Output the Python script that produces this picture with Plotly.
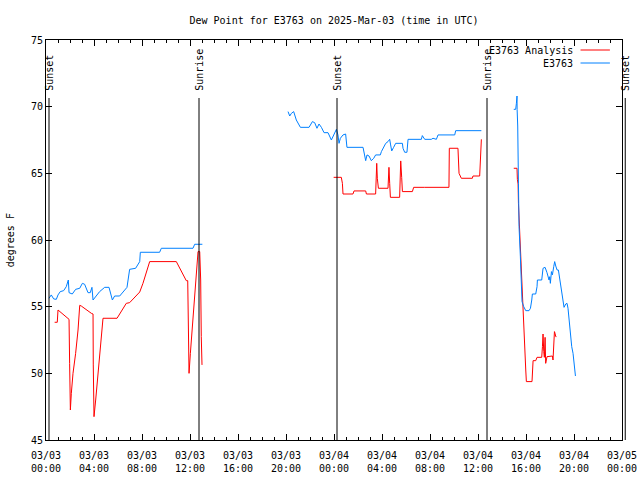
import pandas as pd
import plotly.graph_objects as go

START = pd.Timestamp("2025-03-03 00:00")
END = pd.Timestamp("2025-03-05 00:00")
SPAN_H = 48.0

# ---- data: hours after 2025-03-03 00:00 UTC, dew point (F) ----
obs_h1 = [0.25, 0.44, 0.64, 0.86, 1.0, 1.19, 1.47, 1.69, 1.86, 1.92, 2.19, 2.47, 2.81, 3.03, 3.22,
          3.5, 3.69, 3.83, 3.92, 4.14, 4.47, 4.89, 5.25, 5.53, 5.72, 6.14, 6.36, 6.75, 6.97, 7.47,
          7.81, 7.86, 9.47, 9.61, 12.25, 12.39, 13.03]
obs_v1 = [55.63, 55.88, 55.58, 55.55, 55.88, 56.13, 56.2, 56.5, 57.0, 56.05, 55.95, 56.3, 56.38, 56.75, 56.68,
          56.05, 56.05, 56.45, 55.5, 55.75, 56.13, 56.45, 56.45, 55.5, 55.8, 55.8, 56.05, 56.45, 57.8, 57.88,
          58.38, 59.08, 59.08, 59.38, 59.38, 59.68, 59.68]

obs_h2 = [20.17, 20.31, 20.45, 20.64, 20.86, 21.2, 21.92, 22.2, 22.39, 22.58, 22.75, 22.95, 23.17, 23.5,
          23.78, 24.06, 24.2, 24.33, 24.42, 24.53, 24.75, 24.97, 25.08, 26.42, 26.56, 26.64, 26.75, 26.92,
          27.11, 27.31, 27.47, 27.86, 27.95, 28.14, 28.31, 28.5, 28.64, 28.72, 28.81, 28.97, 29.14, 29.7,
          29.75, 29.89, 30.08, 30.17, 31.28, 31.36, 31.56, 32.11, 32.25, 32.53, 32.67, 34.06, 34.14, 36.28]
obs_v2 = [69.63, 69.3, 69.5, 69.63, 69.0, 68.45, 68.45, 68.88, 68.8, 68.38, 68.7, 68.45, 68.05, 68.05,
          67.5, 68.0, 68.3, 67.88, 67.25, 67.63, 67.88, 67.95, 66.95, 66.95, 66.45, 65.95, 66.38, 66.3,
          65.95, 66.13, 66.38, 66.38, 66.63, 66.95, 67.25, 67.38, 67.55, 67.13, 66.68, 66.95, 67.25, 67.25,
          66.88, 66.58, 66.58, 67.55, 67.55, 67.83, 67.55, 67.55, 67.63, 67.55, 67.88, 67.88, 68.2, 68.2]

obs_h3 = [38.98, 39.14, 39.2, 39.25, 39.26, 39.31, 39.37, 39.42, 39.53, 39.59, 39.67, 39.81, 39.98, 40.25,
          40.37, 40.48, 40.53, 40.81, 40.92, 40.95, 41.31, 41.42, 41.59, 41.75, 41.92, 41.98, 42.03, 42.12,
          42.2, 42.31, 42.39, 42.48, 42.59, 42.7, 42.81, 42.92, 43.03, 43.17, 43.31, 43.42, 43.5, 43.59,
          43.7, 43.81, 43.92, 44.03, 44.12]
obs_v3 = [69.8, 69.8, 70.25, 70.8, 69.8, 68.55, 64.25, 61.0, 58.75, 57.25, 55.38, 55.0, 54.7, 54.7,
          54.88, 55.5, 55.95, 55.95, 56.5, 57.0, 57.0, 57.88, 57.95, 57.55, 57.0, 57.25, 56.75, 57.63,
          57.38, 58.0, 58.38, 58.05, 57.75, 57.75, 57.0, 56.5, 55.63, 54.95, 55.2, 55.25, 54.88, 54.13,
          52.75, 52.0, 51.5, 50.75, 49.8]

ana_h1 = [0.72, 0.94, 1.0, 1.92, 1.97, 2.03, 2.11, 2.25, 2.47, 2.67, 2.81, 2.94, 3.78, 3.92, 3.94, 4.0,
          4.14, 4.33, 4.53, 4.75, 5.92, 6.69, 6.97, 7.81, 8.08, 8.36, 8.64, 10.86, 11.69, 11.81, 11.86,
          11.92, 12.03, 12.19, 12.39, 12.53, 12.67, 12.81, 12.89, 12.94, 13.0]
ana_v1 = [53.83, 53.83, 54.75, 54.05, 50.75, 47.25, 48.5, 50.0, 51.5, 53.25, 55.1, 55.05, 54.5, 54.45, 50.63, 46.75,
          48.0, 49.75, 52.13, 54.13, 54.13, 55.25, 55.3, 56.1, 56.75, 57.5, 58.38, 58.38, 56.95, 56.95, 53.5,
          50.0, 51.5, 53.5, 56.25, 57.75, 59.13, 59.13, 57.0, 52.75, 50.63]

ana_h2 = [23.97, 24.61, 24.7, 24.75, 25.58, 25.67, 26.64, 26.7, 27.47, 27.56, 27.61, 27.7, 28.5, 28.58,
          28.64, 28.7, 29.47, 29.56, 29.64, 29.7, 30.53, 30.64, 31.56, 32.61, 33.58, 33.61, 34.33, 34.42,
          34.53, 34.61, 35.53, 35.58, 36.14, 36.2, 36.28]
ana_v2 = [64.7, 64.7, 64.25, 63.45, 63.45, 63.68, 63.68, 63.45, 63.45, 65.75, 64.63, 63.88, 63.88, 65.45,
          64.25, 63.2, 63.2, 65.93, 64.7, 63.63, 63.63, 63.95, 63.95, 63.95, 63.95, 66.88, 66.88, 65.0,
          64.75, 64.63, 64.63, 64.8, 64.8, 66.13, 67.55]

ana_h3 = [38.98, 39.25, 39.28, 39.34, 39.37, 39.53, 39.59, 39.64, 39.7, 39.75, 39.78, 39.87, 39.98, 40.03,
          40.5, 40.59, 40.81, 40.92, 41.31, 41.37, 41.42, 41.48, 41.53, 41.59, 41.64, 41.75, 41.92, 41.98,
          42.2, 42.25, 42.31, 42.37, 42.42, 42.48, 42.53]
ana_v3 = [65.38, 65.38, 64.55, 64.2, 62.75, 59.13, 58.75, 57.38, 56.5, 55.5, 53.88, 52.05, 50.25, 49.38,
          49.38, 50.95, 50.95, 51.2, 51.2, 52.0, 52.95, 51.63, 51.2, 52.7, 50.75, 51.25, 51.25, 51.3,
          51.3, 51.0, 52.05, 53.13, 53.0, 52.75, 52.75]

sun_labels = ["Sunset", "Sunrise", "Sunset", "Sunrise", "Sunset"]
sun_hours = [0.25, 12.75, 24.25, 36.75, 48.27]

y_ticks = [45, 50, 55, 60, 65, 70, 75]

series_names = ["E3763 Analysis", "E3763"]
series_colors = ["#ff0000", "#0080ff"]

FONT = "DejaVu Sans Mono"


def to_time(hours):
    return [START + pd.Timedelta(hours=h) for h in hours]


def join(segments):
    xs, ys = [], []
    for h, v in segments:
        if xs:
            xs.append(None)
            ys.append(None)
        xs += to_time(h)
        ys += v
    return xs, ys


ana_x, ana_y = join([(ana_h1, ana_v1), (ana_h2, ana_v2), (ana_h3, ana_v3)])
obs_x, obs_y = join([(obs_h1, obs_v1), (obs_h2, obs_v2), (obs_h3, obs_v3)])

fig = go.Figure()
fig.add_trace(go.Scatter(x=ana_x, y=ana_y, mode="lines", name=series_names[0],
                         line=dict(color=series_colors[0], width=1), connectgaps=False))
fig.add_trace(go.Scatter(x=obs_x, y=obs_y, mode="lines", name=series_names[1],
                         line=dict(color=series_colors[1], width=1), connectgaps=False))

tick_times = pd.date_range(START, END, freq="4h")
tick_text = [f"{t:%m/%d}<br>{t:%H:%M}" for t in tick_times]

shapes = []
annotations = []
for lab, h in zip(sun_labels, sun_hours):
    t = START + pd.Timedelta(hours=h)
    if START <= t <= END:
        xref, xv = "x", t
    else:
        xref, xv = "paper", h / SPAN_H
    shapes.append(dict(type="line", xref=xref, yref="paper", x0=xv, x1=xv, y0=0, y1=0.855,
                       line=dict(color="black", width=1)))
    annotations.append(dict(text=lab, xref=xref, yref="paper", x=xv, y=0.868, xanchor="center",
                            yanchor="bottom", textangle=-90, showarrow=False, xshift=1,
                            font=dict(family=FONT, size=10, color="black")))

# gnuplot-style legend (text then line sample)
leg_y = [0.975, 0.9425]
for name, col, ly in zip(series_names, series_colors, leg_y):
    annotations.append(dict(text=name, xref="paper", yref="paper", x=0.918, y=ly, xanchor="right",
                            yanchor="middle", showarrow=False,
                            font=dict(family=FONT, size=10, color="black")))
    shapes.append(dict(type="line", xref="paper", yref="paper", x0=0.928, x1=0.979, y0=ly, y1=ly,
                       line=dict(color=col, width=1)))

annotations.append(dict(text="degrees F", xref="paper", yref="paper", x=-0.062, y=0.5,
                        xanchor="center", yanchor="middle", textangle=-90, showarrow=False,
                        font=dict(family=FONT, size=10, color="black")))

fig.update_layout(
    width=640, height=480,
    margin=dict(l=46, r=18, t=40, b=40),
    paper_bgcolor="white", plot_bgcolor="white",
    showlegend=False,
    title=dict(text="Dew Point for E3763 on 2025-Mar-03 (time in UTC)", x=0.5, xref="paper",
               y=1 - 20 / 480, yref="container", xanchor="center", yanchor="middle",
               font=dict(family=FONT, size=10, color="black")),
    font=dict(family=FONT, size=10, color="black"),
    shapes=shapes,
    annotations=annotations,
)

fig.update_xaxes(
    type="date", range=[START, END], automargin=False,
    tickmode="array", tickvals=list(tick_times), ticktext=tick_text,
    ticks="inside", ticklen=6, tickcolor="black", tickwidth=1,
    minor=dict(dtick=3600000, ticks="inside", ticklen=3, tickcolor="black", showgrid=False),
    showline=True, linecolor="black", linewidth=1, mirror="allticks",
    showgrid=False, zeroline=False, ticklabelstandoff=6,
    tickfont=dict(family=FONT, size=10, color="black"),
)
fig.update_yaxes(
    range=[45, 75], tickmode="array", tickvals=y_ticks, automargin=False,
    ticks="inside", ticklen=6, tickcolor="black", tickwidth=1,
    showline=True, linecolor="black", linewidth=1, mirror="allticks",
    showgrid=False, zeroline=False,
    tickfont=dict(family=FONT, size=10, color="black"),
)

fig.write_html("out.html", post_script="document.body.style.margin='0';",
               config={"displayModeBar": False})
